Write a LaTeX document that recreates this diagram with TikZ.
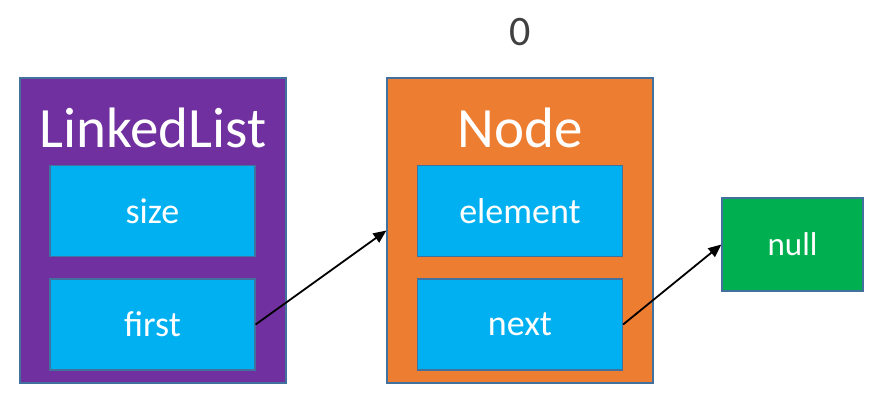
\documentclass[tikz,border=0pt]{standalone}
\usepackage{fontspec}
\setmainfont{Carlito}
\usepackage{xcolor}
\usetikzlibrary{arrows.meta,positioning}

\definecolor{lpurple}{HTML}{7030A0}
\definecolor{lorange}{HTML}{ED7D31}
\definecolor{lcyan}{HTML}{00B0F0}
\definecolor{lgreen}{HTML}{00B050}
\definecolor{ledge}{HTML}{41719C}
\definecolor{lgrey}{HTML}{404040}

\begin{document}
\begin{tikzpicture}[x=1pt, y=-1pt,
  outer/.style={draw=ledge, line width=1.2pt, minimum width=266pt,
    minimum height=305pt, inner sep=0pt},
  field/.style={draw=ledge, line width=1.2pt, fill=lcyan, text=white,
    minimum width=205pt, minimum height=91pt, inner sep=0pt,
    font=\fontsize{36}{40}\selectfont},
  title/.style={text=white, anchor=base, inner sep=0pt,
    font=\fontsize{57}{62}\selectfont},
  arr/.style={-{Triangle[length=13pt, width=11pt]}, line width=1.8pt},
]
\useasboundingbox (0,0) rectangle (882,407);

% LinkedList
\node[outer, fill=lpurple] (list) at (153,230.5) {};
\node[title] (listtitle) at (153,147) {LinkedList};
\node[field] (size) at (152.5,211) {size};
\node[field] (first) at (152.5,324.5) {first};

% Node
\node[outer, fill=lorange] (node) at (520,230.5) {};
\node[title] (nodetitle) at (520,147) {Node};
\node[field] (element) at (520,211) {element};
\node[field] (next) at (520,324.5) {next};
\node[text=lgrey, font=\fontsize{42}{46}\selectfont] (index) at (520,32) {0};

% null
\node[field, fill=lgreen, minimum width=141pt, minimum height=93pt,
  font=\fontsize{33}{38}\selectfont] (null) at (792.5,244.5) {null};

% Arrows
\draw[arr] (first.east) -- (node.west);
\draw[arr] (next.east) -- (null.west);

\end{tikzpicture}
\end{document}
